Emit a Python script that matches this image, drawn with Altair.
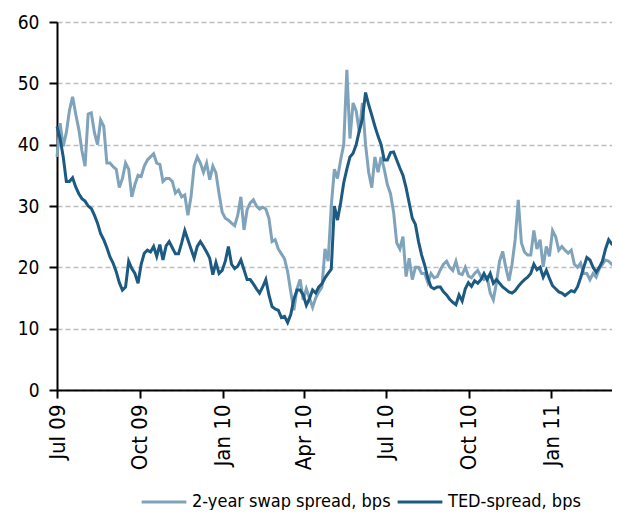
import altair as alt
import pandas as pd

SERIES = ["2-year swap spread, bps", "TED-spread, bps"]
COLORS = ["#7fa3ba", "#1c5a82"]

swap = [
    38, 43.5, 39.7, 42, 45.6, 47.8, 45, 42.5, 39, 36.5,
    45, 45.2, 42, 40, 44, 43, 37, 37, 36.4, 36,
    33, 34.5, 37, 36, 31.5, 33.5, 35, 34.8, 36.5, 37.5,
    38, 38.5, 37, 36.8, 34, 34.5, 34.5, 34, 32.1, 32.6,
    31.5, 31.8, 28.5, 31.5, 36.5, 38, 37, 35.5, 37, 34.3,
    36.5, 35.4, 32, 29, 28, 27.7, 27.2, 26.8, 28.5, 31.5,
    26.1, 29.4, 30.5, 31, 30, 29.5, 29.8, 29.5, 28, 24.2,
    24.5, 23, 22.2, 21.4, 19.3, 16, 13, 16.5, 18, 14.7,
    16.5, 15, 13.5, 15, 16, 16.8, 23, 21, 30, 36,
    34.5, 37.5, 40, 52.2, 41, 46.8, 45.5, 42, 46.8, 40,
    35.5, 33, 38, 35.5, 38, 36, 33.5, 32, 29, 24,
    23, 25, 18.5, 21.5, 18, 20, 20, 19, 19, 17.5,
    19, 18.3, 18.5, 19.6, 20.5, 21, 20, 19.5, 21, 19,
    18.8, 20, 18.6, 18.3, 19, 19.5, 18.5, 18, 18.4, 15.8,
    14.7, 17.5, 21, 22.6, 20, 17.8, 20.5, 24.5, 31, 24,
    22.5, 22, 22, 26, 23, 24.5, 20.1, 23.4, 21.8, 26,
    25, 22.8, 23.4, 22.8, 22.3, 22.8, 20.5, 20, 20.7, 19,
    19, 18, 19, 18.4, 19.8, 20.5, 21.2, 21, 20.5, 20,
    20,
]

ted = [
    43, 41, 38, 34, 34, 34.6, 33.1, 32, 31.2, 30.8,
    30, 29.6, 28.5, 27.2, 25.5, 24.5, 23.2, 21.7, 20.7, 19.3,
    17.5, 16.3, 16.8, 21, 19.8, 19, 17.4, 20.5, 22.3, 22.8,
    22.5, 23.4, 21.8, 23.7, 21.2, 23.5, 24.2, 23.2, 22.2, 22.2,
    24, 26, 24.5, 23, 21.5, 23.4, 24.2, 23.4, 22.5, 21.5,
    18.8, 20.8, 19, 19.5, 21, 23.4, 20.5, 19.8, 20.2, 21.2,
    19.6, 18, 18, 17.3, 16.5, 15.8, 16.8, 18, 15.5, 13.6,
    13.2, 13, 11.8, 12, 11, 12.3, 14.8, 16.3, 16.3, 15.5,
    13.8, 14.9, 16.3, 15.8, 16.8, 17.3, 18.3, 19, 19.7, 30,
    27.7, 30.5, 33.8, 36, 38, 38.6, 40, 42.3, 44.2, 48.5,
    46.5, 44.8, 43, 41.4, 40, 37.5, 37.5, 38.7, 38.8, 37.5,
    36.2, 35, 33, 30.5, 28, 27, 24.2, 22, 20.3, 18.2,
    16.8, 16.5, 16.8, 16.8, 16, 15.5, 14.8, 14.3, 13.9, 15.5,
    14.5, 16.5, 17.5, 16.9, 17.8, 17.4, 18, 19, 18, 19,
    17.4, 18, 17.4, 16.8, 16.4, 16, 15.8, 16.2, 16.9, 17.5,
    18, 18.4, 19, 20.5, 19.6, 20, 18.4, 19.5, 18.2, 17,
    16.5, 16, 15.8, 15.4, 15.8, 16.2, 16, 16.8, 18.3, 20,
    21.6, 21.2, 20, 19.2, 20, 21, 23, 24.5, 23.8, 23.4,
    22.8,
]

dates = pd.date_range("2009-07-01", "2011-03-16", periods=len(swap))
df = pd.DataFrame({"date": dates, SERIES[0]: swap, SERIES[1]: ted})
long = df.melt("date", var_name="series", value_name="value")

FONT = "DejaVu Sans Condensed, sans-serif"

tick_dates = [
    alt.DateTime(year=2009, month=7, date=1),
    alt.DateTime(year=2009, month=10, date=1),
    alt.DateTime(year=2010, month=1, date=1),
    alt.DateTime(year=2010, month=4, date=1),
    alt.DateTime(year=2010, month=7, date=1),
    alt.DateTime(year=2010, month=10, date=1),
    alt.DateTime(year=2011, month=1, date=1),
]

chart = alt.Chart(long).mark_line(strokeWidth=3).encode(
    x=alt.X(
        "date:T",
        title=None,
        scale=alt.Scale(domain=[alt.DateTime(year=2009, month=7, date=1),
                                alt.DateTime(year=2011, month=3, date=16)]),
        axis=alt.Axis(values=tick_dates, format="%b %y", labelAngle=-90,
                      labelFont=FONT, labelFontSize=22, labelColor="#000",
                      labelPadding=6, tickSize=8, tickWidth=2, tickColor="#000",
                      domainColor="#000", domainWidth=2, grid=False),
    ),
    y=alt.Y(
        "value:Q",
        title=None,
        scale=alt.Scale(domain=[0, 60]),
        axis=alt.Axis(values=[0, 10, 20, 30, 40, 50, 60], labelFont=FONT,
                      labelFontSize=19, labelColor="#000", labelPadding=10,
                      tickSize=8, tickWidth=2, tickColor="#000",
                      domainColor="#000", domainWidth=2,
                      grid=True, gridColor="#bdbdbd", gridDash=[5, 3], gridWidth=1.5),
    ),
    color=alt.Color(
        "series:N",
        scale=alt.Scale(domain=SERIES, range=COLORS),
        legend=alt.Legend(orient="none", legendX=83, legendY=456, direction="horizontal",
                          title=None, symbolType="stroke", symbolSize=2000,
                          symbolStrokeWidth=3, labelFont=FONT, labelFontSize=18,
                          labelColor="#000", columnPadding=0, labelLimit=400,
                          labelOffset=4),
    ),
).properties(
    width=561,
    height=368,
    autosize=alt.AutoSizeParams(type="none"),
    padding={"left": 49, "top": 14, "right": -6, "bottom": 120},
).configure_view(stroke=None)

chart.save("out.html", embed_options={"renderer": "svg", "actions": False})
